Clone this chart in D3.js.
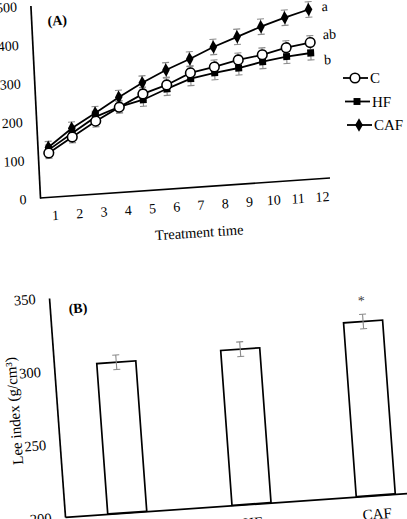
<!DOCTYPE html>
<html>
<head>
<meta charset="utf-8">
<script src="https://cdn.jsdelivr.net/npm/d3@7"></script>
<style>
  body { margin: 0; background: #fff; }
  svg { display: block; font-family: "Liberation Serif", "Times New Roman", serif; }
  .axis path { stroke: #000; stroke-width: 1.7px; fill: none; }
  .axis text { font-size: 14px; fill: #000; font-family: "Liberation Serif", serif; }
</style>
</head>
<body>
<div class="fig"></div>
<script>
// panel A - weight over treatment time
var weeks = [1, 2, 3, 4, 5, 6, 7, 8, 9, 10, 11, 12];
var weightC   = [115, 152, 189, 221, 251, 270, 297, 308, 322, 331, 345, 354];
var weightHF  = [123, 162, 200, 222, 236, 260, 282, 293, 301, 313, 322, 327];
var weightCAF = [130, 175, 210, 247, 280, 309, 333, 360, 382, 404, 423, 440];
var errC   = [14, 15, 15, 16, 17, 18, 18, 18, 18, 18, 18, 18];
var errHF  = [13, 14, 15, 15, 17, 17, 18, 18, 18, 18, 18, 18];
var errCAF = [15, 16, 17, 18, 18, 19, 19, 20, 20, 20, 20, 20];
var yTicksA = [0, 100, 200, 300, 400, 500];
var sigLetters = ["a", "ab", "b"];
var sigValues = [444, 371, 306];

// panel B - Lee index
var groups = ["C", "HF", "CAF"];
var leeIndex = [303, 306, 319];
var leeErr = [5, 5, 5];
var yTicksB = [200, 250, 300, 350];

var W = 407, H = 519;

var svg = d3.select(".fig").append("svg")
  .attr("width", W)
  .attr("height", H);

svg.append("rect").attr("width", W).attr("height", H).attr("fill", "#fff");

///////////
//panel A//
///////////

// the scan is a bit crooked, so the whole panel is skewed
var gA = svg.append("g")
  .attr("transform", "matrix(1,-0.069,0.05,1,40,198)");

var xA = d3.scaleLinear().domain([1, 12]).range([11, 277]);
// tick labels in the figure sit a little right of the points
var xTickA = d3.scaleLinear().domain([1, 12]).range([14, 281]);
var yA = d3.scaleLinear().domain([0, 500]).range([0, -192.5]);

gA.append("g")
  .attr("class", "axis")
  .call(d3.axisLeft(yA).tickValues(yTicksA).tickSize(0).tickSizeOuter(0).tickPadding(13.5));

var xAxisA = gA.append("g")
  .attr("class", "axis")
  .call(d3.axisBottom(xTickA).tickValues(weeks).tickSize(0).tickSizeOuter(0).tickPadding(13));
xAxisA.select(".domain").attr("d", "M0,0H290");

gA.append("text")
  .attr("x", 157)
  .attr("y", 45)
  .attr("dy", "0.35em")
  .attr("text-anchor", "middle")
  .style("font-size", "14.5px")
  .text("Treatment time");

gA.append("text")
  .attr("x", 26)
  .attr("y", -176)
  .attr("dy", "0.35em")
  .attr("text-anchor", "middle")
  .style("font-size", "14px")
  .style("font-weight", "bold")
  .text("(A)");

var seriesA = [
  {name: "C", values: weightC, err: errC, shape: "circle"},
  {name: "HF", values: weightHF, err: errHF, shape: "square"},
  {name: "CAF", values: weightCAF, err: errCAF, shape: "diamond"}
];

var line = d3.line()
  .x(function (d, i) { return xA(weeks[i]); })
  .y(function (d) { return yA(d); });

//error bars first, grey
seriesA.forEach(function (s) {
  var eb = gA.append("g").attr("stroke", "#8a8a8a").attr("stroke-width", 1.1);
  s.values.forEach(function (v, i) {
    var x = xA(weeks[i]);
    eb.append("line").attr("x1", x).attr("x2", x)
      .attr("y1", yA(v - s.err[i])).attr("y2", yA(v + s.err[i]));
    eb.append("line").attr("x1", x - 3.5).attr("x2", x + 3.5)
      .attr("y1", yA(v - s.err[i])).attr("y2", yA(v - s.err[i]));
    eb.append("line").attr("x1", x - 3.5).attr("x2", x + 3.5)
      .attr("y1", yA(v + s.err[i])).attr("y2", yA(v + s.err[i]));
  });
});

seriesA.forEach(function (s) {
  gA.append("path")
    .datum(s.values)
    .attr("fill", "none")
    .attr("stroke", "#000")
    .attr("stroke-width", 1.8)
    .attr("d", line);
});

var drawMarker = function (sel, shape) {
  if (shape == "circle") {
    sel.append("circle").attr("r", 4.8)
      .attr("fill", "#fff").attr("stroke", "#000").attr("stroke-width", 1.6);
  } else if (shape == "square") {
    sel.append("path").attr("d", d3.symbol(d3.symbolSquare, 48)())
      .attr("fill", "#000");
  } else {
    sel.append("path").attr("d", d3.symbol(d3.symbolDiamond, 52)())
      .attr("fill", "#000");
  }
};

// draw CAF, HF then C so open circles sit on top
[2, 1, 0].forEach(function (k) {
  var s = seriesA[k];
  gA.append("g").selectAll("g")
    .data(s.values)
    .enter().append("g")
    .attr("transform", function (d, i) { return "translate(" + xA(weeks[i]) + "," + yA(d) + ")"; })
    .each(function () { drawMarker(d3.select(this), s.shape); });
});

//significance letters
gA.selectAll(".sig")
  .data(sigLetters)
  .enter().append("text")
  .attr("class", "sig")
  .attr("x", xA(12) + 13)
  .attr("y", function (d, i) { return yA(sigValues[i]); })
  .attr("dy", "0.3em")
  .style("font-size", "14px")
  .text(function (d) { return d; });

//legend, not skewed
var legend = svg.append("g").attr("transform", "translate(343,78)");
seriesA.forEach(function (s, i) {
  var row = legend.append("g").attr("transform", "translate(" + (i * 2) + "," + (i * 23.5) + ")");
  row.append("line").attr("x1", 0).attr("x2", 25)
    .attr("stroke", "#000").attr("stroke-width", 1.8);
  var m = row.append("g").attr("transform", "translate(12,0)");
  drawMarker(m, s.shape);
  row.append("text")
    .attr("x", 27)
    .attr("dy", "0.35em")
    .style("font-size", "15px")
    .text(s.name);
});

///////////
//panel B//
///////////

var gB = svg.append("g")
  .attr("transform", "matrix(1,-0.070,0.073,1,65,517)");

var xB = d3.scaleBand().domain(groups).range([0, 373])
  .paddingInner(0.686).paddingOuter(0.344);
var yB = d3.scaleLinear().domain([200, 350]).range([0, -219]);

gB.append("g")
  .attr("class", "axis")
  .call(d3.axisLeft(yB).tickValues(yTicksB).tickSize(0).tickSizeOuter(0).tickPadding(13.5))
  .selectAll("text").style("font-size", "14.5px");

gB.append("g")
  .attr("class", "axis")
  .call(d3.axisBottom(xB).tickSize(0).tickSizeOuter(0).tickPadding(13))
  .selectAll("text").style("font-size", "15px");

gB.selectAll(".bar")
  .data(leeIndex)
  .enter().append("rect")
  .attr("class", "bar")
  .attr("x", function (d, i) { return xB(groups[i]); })
  .attr("y", function (d) { return yB(d); })
  .attr("width", xB.bandwidth())
  .attr("height", function (d) { return yB(200) - yB(d); })
  .attr("fill", "#fff")
  .attr("stroke", "#000")
  .attr("stroke-width", 1.7);

var ebB = gB.append("g").attr("stroke", "#8a8a8a").attr("stroke-width", 1.1);
leeIndex.forEach(function (v, i) {
  var x = xB(groups[i]) + xB.bandwidth() / 2;
  ebB.append("line").attr("x1", x).attr("x2", x)
    .attr("y1", yB(v - leeErr[i])).attr("y2", yB(v + leeErr[i]));
  ebB.append("line").attr("x1", x - 3.5).attr("x2", x + 3.5)
    .attr("y1", yB(v - leeErr[i])).attr("y2", yB(v - leeErr[i]));
  ebB.append("line").attr("x1", x - 3.5).attr("x2", x + 3.5)
    .attr("y1", yB(v + leeErr[i])).attr("y2", yB(v + leeErr[i]));
});

// star over CAF
gB.append("text")
  .attr("x", xB("CAF") + xB.bandwidth() / 2)
  .attr("y", yB(leeIndex[2] + leeErr[2]) - 9)
  .attr("text-anchor", "middle")
  .style("font-size", "14px")
  .attr("fill", "#444")
  .text("*");

gB.append("text")
  .attr("x", 28)
  .attr("y", -207)
  .attr("dy", "0.35em")
  .attr("text-anchor", "middle")
  .style("font-size", "14px")
  .style("font-weight", "bold")
  .text("(B)");

gB.append("text")
  .attr("transform", "translate(-43,-109) rotate(-90)")
  .attr("dy", "0.35em")
  .attr("text-anchor", "middle")
  .style("font-size", "15px")
  .text("Lee index (g/cm³)");
</script>
</body>
</html>
